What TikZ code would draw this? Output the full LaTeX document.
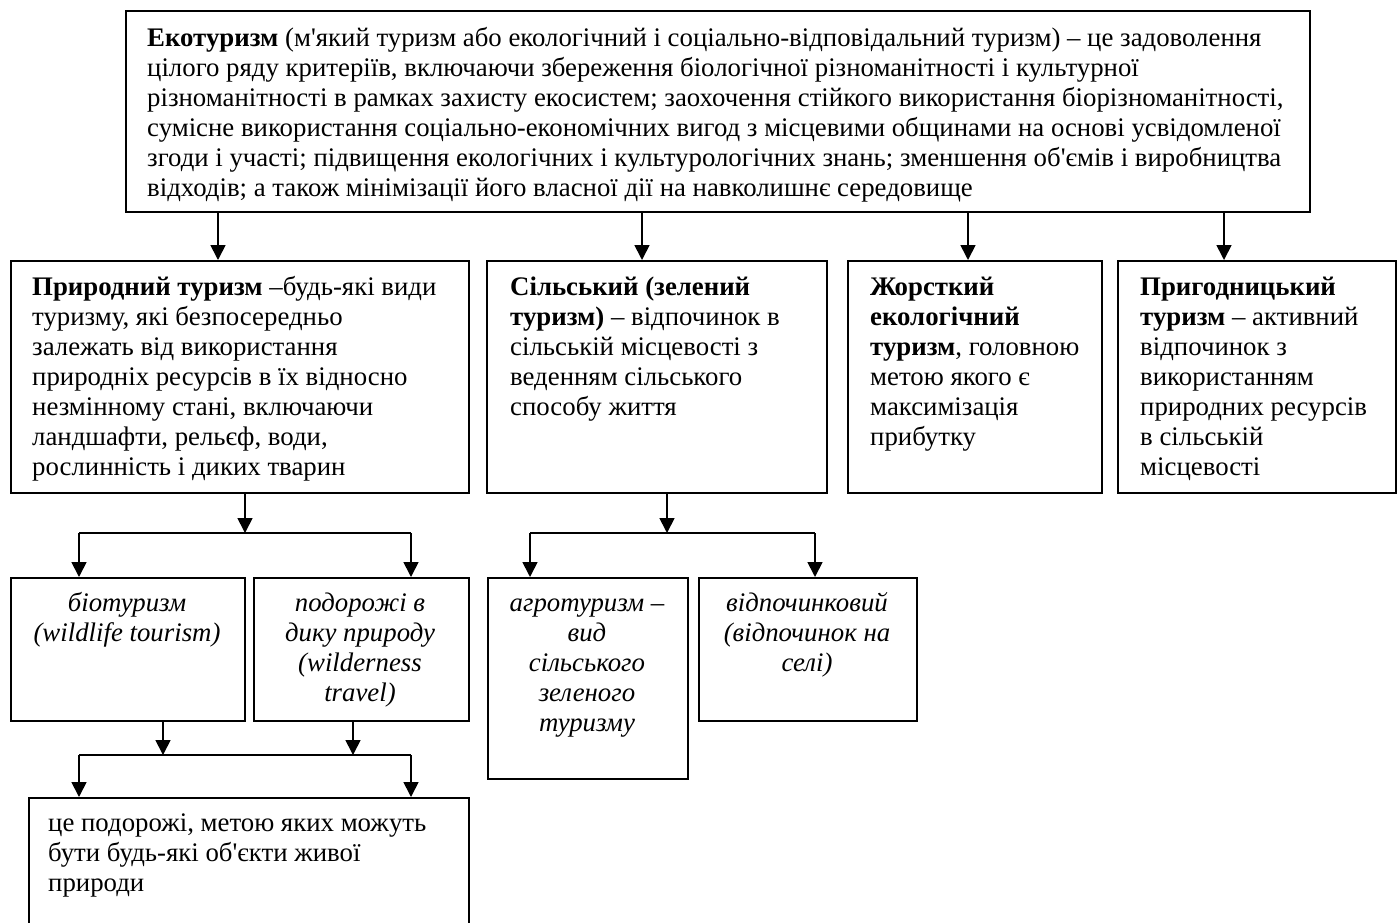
\documentclass[tikz,border=0pt]{standalone}
\usepackage{fontspec}
\setmainfont{Liberation Serif}[Ligatures=TeXOff]
\usetikzlibrary{arrows.meta, positioning}
\newcommand{\lefttab}[1]{\begin{tabular}[t]{@{}l@{}}#1\end{tabular}}
\newcommand{\midtab}[1]{\begin{tabular}[t]{@{}c@{}}#1\end{tabular}}

\begin{document}
\begin{tikzpicture}[x=1pt, y=-1pt,
  box/.style={draw, line width=1.7pt, anchor=north west, inner sep=0pt},
  txt/.style={anchor=base west, inner sep=0pt, font=\fontsize{26.8}{30}\selectfont},
  itx/.style={anchor=base, inner sep=0pt, font=\fontsize{26.8}{30}\selectfont\itshape},
  arr/.style={line width=1.7pt, -{Triangle[length=15pt,width=15pt]}},
  bar/.style={line width=1.7pt}]
\useasboundingbox (0,0) rectangle (1398,922);

% top box
\node[box, minimum width=1184pt, minimum height=201pt] (eco) at (125,10) {};
\node[txt] (ecoT) at (147,46) {\lefttab{\textbf{Екотуризм} (м'який туризм або екологічний і соціально-відповідальний туризм) – це задоволення\\
цілого ряду критеріїв, включаючи збереження біологічної різноманітності і культурної\\
різноманітності в рамках захисту екосистем; заохочення стійкого використання біорізноманітності,\\
сумісне використання соціально-економічних вигод з місцевими общинами на основі усвідомленої\\
згоди і участі; підвищення екологічних і культурологічних знань; зменшення об'ємів і виробництва\\
відходів; а також мінімізації його власної дії на навколишнє середовище}};

% second row
\node[box, minimum width=458pt, minimum height=232pt] (nat) at (10,260) {};
\node[txt] (natT) at (32,295) {\lefttab{\textbf{Природний туризм} –будь-які види\\
туризму, які безпосередньо\\
залежать від використання\\
природніх ресурсів в їх відносно\\
незмінному стані, включаючи\\
ландшафти, рельєф, води,\\
рослинність і диких тварин}};

\node[box, minimum width=340pt, minimum height=232pt] (rur) at (486,260) {};
\node[txt] (rurT) at (510,295) {\lefttab{\textbf{Сільський (зелений}\\
\textbf{туризм)} – відпочинок в\\
сільській місцевості з\\
веденням сільського\\
способу життя}};

\node[box, minimum width=254pt, minimum height=232pt] (hard) at (847,260) {};
\node[txt] (hardT) at (870,295) {\lefttab{\textbf{Жорсткий}\\
\textbf{екологічний}\\
\textbf{туризм}, головною\\
метою якого є\\
максимізація\\
прибутку}};

\node[box, minimum width=278pt, minimum height=232pt] (adv) at (1117,260) {};
\node[txt] (advT) at (1140,295) {\lefttab{\textbf{Пригодницький}\\
\textbf{туризм} – активний\\
відпочинок з\\
використанням\\
природних ресурсів\\
в сільській\\
місцевості}};

% third row
\node[box, minimum width=234pt, minimum height=143pt] (bio) at (10,577) {};
\node[itx] (bioT) at (127,611) {\midtab{біотуризм\\(wildlife tourism)}};
\node[box, minimum width=215pt, minimum height=143pt] (wild) at (253,577) {};
\node[itx] (wildT) at (360,611) {\midtab{подорожі в\\дику природу\\(wilderness\\travel)}};
\node[box, minimum width=200pt, minimum height=201pt] (agro) at (487,577) {};
\node[itx] (agroT) at (587,611) {\midtab{агротуризм –\\вид\\сільського\\зеленого\\туризму}};
\node[box, minimum width=218pt, minimum height=143pt] (rest) at (698,577) {};
\node[itx] (restT) at (807,611) {\midtab{відпочинковий\\(відпочинок на\\селі)}};

% bottom box, cut by the page edge
\node[box, minimum width=440pt, minimum height=150pt] (trip) at (28,797) {};
\node[txt] (tripT) at (48,831) {\lefttab{це подорожі, метою яких можуть\\
бути будь-які об'єкти живої\\
природи}};

% arrows from the top box
\coordinate (a1) at (218,211);
\coordinate (a2) at (642,211);
\coordinate (a3) at (968,211);
\coordinate (a4) at (1224,211);
\draw[arr] (a1) -- (a1 |- nat.north);
\draw[arr] (a2) -- (a2 |- rur.north);
\draw[arr] (a3) -- (a3 |- hard.north);
\draw[arr] (a4) -- (a4 |- adv.north);

% branches under the nature box
\coordinate (j1) at (245,533);
\coordinate (l1) at (79,533);
\coordinate (r1) at (411,533);
\draw[arr] (j1 |- nat.south) -- (j1);
\draw[bar] (l1) -- (r1);
\draw[arr] (l1) -- (l1 |- bio.north);
\draw[arr] (r1) -- (r1 |- wild.north);

% branches under the rural box
\coordinate (j2) at (667,533);
\coordinate (l2) at (530,533);
\coordinate (r2) at (815,533);
\draw[arr] (j2 |- rur.south) -- (j2);
\draw[bar] (l2) -- (r2);
\draw[arr] (l2) -- (l2 |- agro.north);
\draw[arr] (r2) -- (r2 |- rest.north);

% join into the bottom box
\coordinate (jb) at (163,755);
\coordinate (jw) at (353,755);
\coordinate (l3) at (79,755);
\coordinate (r3) at (411,755);
\draw[arr] (jb |- bio.south) -- (jb);
\draw[arr] (jw |- wild.south) -- (jw);
\draw[bar] (l3) -- (r3);
\draw[arr] (l3) -- (l3 |- trip.north);
\draw[arr] (r3) -- (r3 |- trip.north);
\end{tikzpicture}
\end{document}
